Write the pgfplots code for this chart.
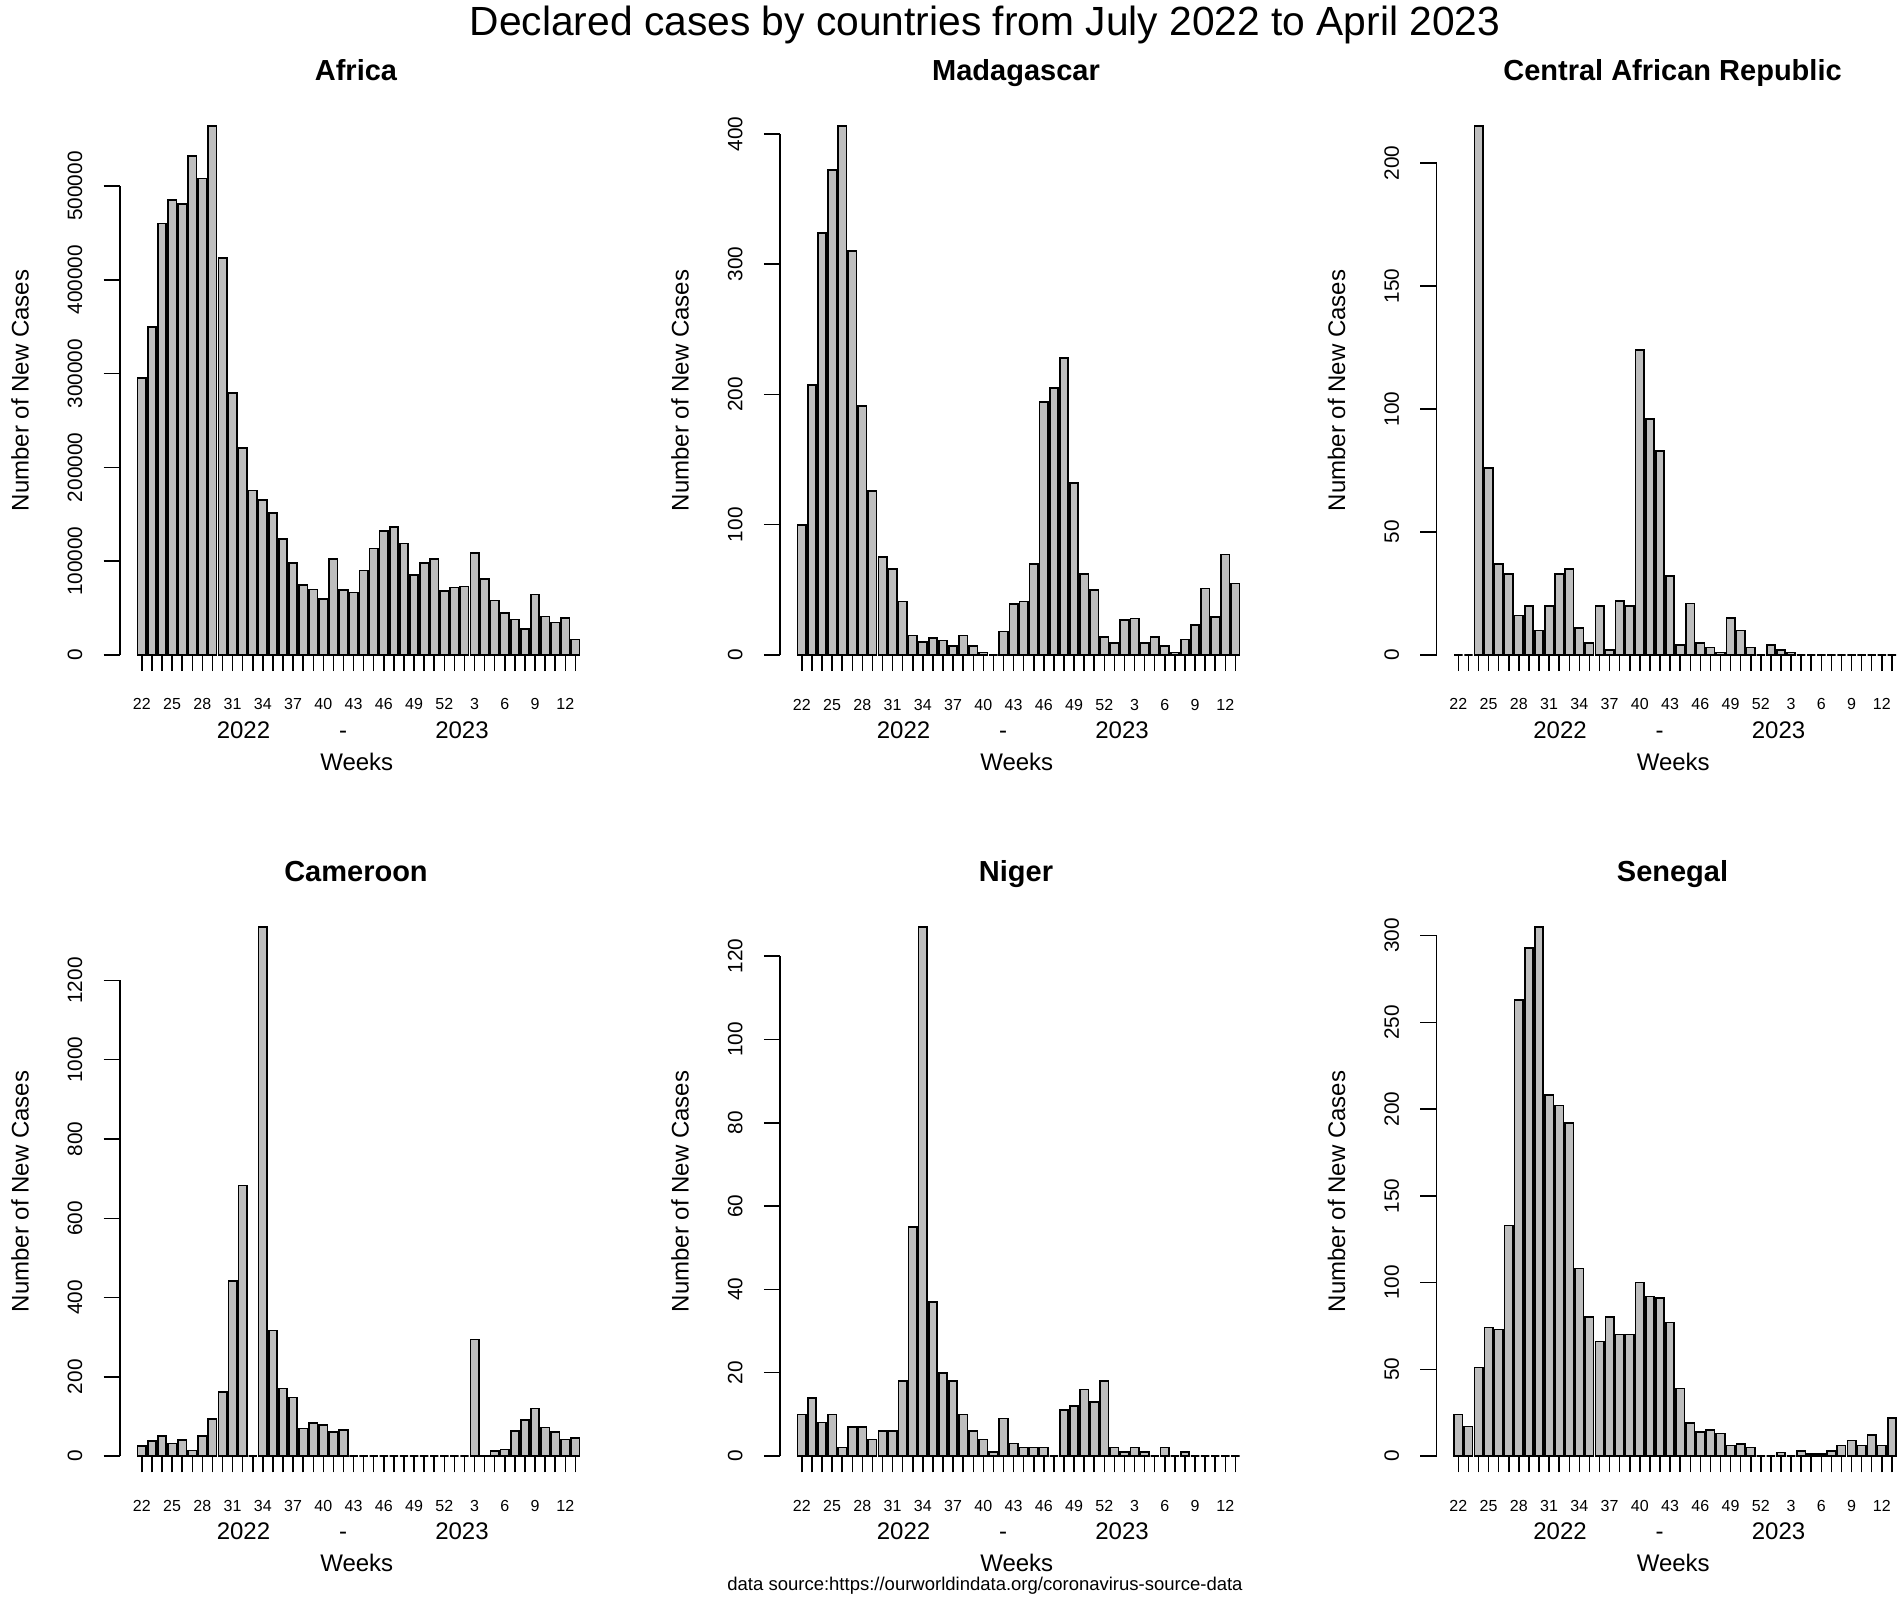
\documentclass[border=0pt]{standalone}
\usepackage{fontspec}
\setmainfont{Liberation Sans}
\usepackage{pgfplots}
\usepackage{pgfplotstable}
\pgfplotsset{compat=1.18}
\definecolor{barfill}{HTML}{BEBEBE}

\newcommand\xtickfont{\fontsize{6.4}{7}\selectfont}
\newcommand\ytickfont{\fontsize{8.3}{9}\selectfont}
\newcommand\labfont{\fontsize{9.6}{11}\selectfont}
\newcommand\paneltitlefont{\bfseries\fontsize{11.6}{13}\selectfont}

\pgfplotstableread{
wk Africa Madagascar CAR Cameroon Niger Senegal
22 295000 100 0 25 10 24
23 350000 207 0 38 14 17
24 460000 324 215 50 8 51
25 485000 372 76 32 10 74
26 481000 406 37 41 2 73
27 532000 310 33 14 7 133
28 508000 191 16 50 7 263
29 564000 126 20 93 4 293
30 423000 75 10 161 6 305
31 279000 66 20 442 6 208
32 221000 41 33 683 18 202
33 175500 15 35 0 55 192
34 165000 10 11 1335 127 108
35 151500 13 5 317 37 80
36 123500 11 20 170 20 66
37 98000 7 2 148 18 80
38 74500 15 22 69 10 70
39 70000 7 20 83 6 70
40 59500 2 124 78 4 100
41 102500 0 96 61 1 92
42 69000 18 83 65 9 91
43 66700 39 32 0 3 77
44 90000 41 4 0 2 39
45 113500 70 21 0 2 19
46 132000 194 5 0 2 14
47 136500 205 3 0 0 15
48 119000 228 1 0 11 13
49 85500 132 15 0 12 6
50 98000 62 10 0 16 7
51 102300 50 3 0 13 5
52 68500 14 0 0 18 0
1 72000 9 4 0 2 0
2 73000 27 2 0 1 2
3 109000 28 1 294 2 0
4 81000 9 0 1 1 3
5 58300 14 0 12 0 1
6 45000 7 0 16 2 1
7 38000 2 0 63 0 3
8 28000 12 0 91 1 6
9 64500 23 0 120 0 9
10 41000 51 0 72 0 6
11 34700 29 0 61 0 12
12 39400 77 0 42 0 6
13 16700 55 0 45 0 22
}\data

\pgfplotsset{
  panel/.style={
    scale only axis, width=190.9pt, height=211.6pt,
    anchor=south west,
    xmin=-1.904, xmax=54.904, ymin=0,
    axis x line*=bottom, axis y line*=left,
    axis line style={draw=none},
    clip=false,
    tick align=outside, major tick length=6.5pt,
    every tick/.style={black, line width=0.6pt},
    xtick={0.7,1.9,...,52.4},
    xticklabels={22,,,25,,,28,,,31,,,34,,,37,,,40,,,43,,,46,,,49,,,52,,,3,,,6,,,9,,,12,},
    xticklabel style={font=\xtickfont, anchor=base, yshift=-15.5pt, inner sep=0pt},
    yticklabel style={font=\ytickfont, xshift=-8.6pt, rotate=90, anchor=base, inner sep=0pt},
    scaled y ticks=false,
    /pgf/number format/fixed,
    /pgf/number format/1000 sep={},
    /pgf/number format/assume math mode=true,
    xlabel={Weeks}, ylabel={Number of New Cases},
    every axis title/.style={at={(axis description cs:0,1)}, anchor=base, xshift=94.4pt, yshift=18.2pt, font=\paneltitlefont},
    every axis x label/.style={at={(axis description cs:0,0)}, anchor=base, xshift=94.7pt, yshift=-46.2pt, font=\labfont},
    every axis y label/.style={at={(axis description cs:0,0.5)}, xshift=-36.6pt, rotate=90, anchor=base, font=\labfont},
  },
  bars/.style={ybar, bar width=1, bar shift=0pt, fill=barfill, draw=black, line width=0.65pt},
}

\newcommand\years{%
  \node[anchor=base, font=\labfont] at ([xshift=49.4pt, yshift=-33.4pt]rel axis cs:0,0) {2022};
  \node[anchor=base, font=\labfont] at ([xshift=89.2pt, yshift=-33.4pt]rel axis cs:0,0) {-};
  \node[anchor=base, font=\labfont] at ([xshift=136.8pt, yshift=-33.4pt]rel axis cs:0,0) {2023};
}

\begin{document}
\begin{tikzpicture}
\path[use as bounding box] (0,0) rectangle (760.8pt,640.8pt);

\node[anchor=base, font=\fontsize{16.3}{19}\selectfont] at (394pt,626.6pt) {Declared cases by countries from July 2022 to April 2023};
\node[anchor=base, font=\fontsize{7.4}{9}\selectfont] at (394pt,4.5pt) {data source:https://ourworldindata.org/coronavirus-source-data};

% Africa
\begin{axis}[panel, at={(48pt,378.8pt)}, title={Africa}, ymax=564000,
  ytick={0,100000,200000,300000,400000,500000}]
\addplot[bars] table[x expr=0.7+1.2*\coordindex, y=Africa]{\data};
\draw[black, line width=0.6pt] (axis cs:-1.904,0) -- (axis cs:-1.904,500000);
\years
\end{axis}

% Madagascar
\begin{axis}[panel, at={(312pt,378.8pt)}, title={Madagascar}, ymax=406,
  ytick={0,100,200,300,400}]
\addplot[bars] table[x expr=0.7+1.2*\coordindex, y=Madagascar]{\data};
\draw[black, line width=0.6pt] (axis cs:-1.904,0) -- (axis cs:-1.904,400);
\years
\end{axis}

% Central African Republic
\begin{axis}[panel, at={(574.6pt,378.8pt)}, title={Central African Republic}, ymax=215,
  ytick={0,50,100,150,200}]
\addplot[bars] table[x expr=0.7+1.2*\coordindex, y=CAR]{\data};
\draw[black, line width=0.6pt] (axis cs:-1.904,0) -- (axis cs:-1.904,200);
\years
\end{axis}

% Cameroon
\begin{axis}[panel, at={(48pt,58.4pt)}, title={Cameroon}, ymax=1335,
  ytick={0,200,400,600,800,1000,1200}]
\addplot[bars] table[x expr=0.7+1.2*\coordindex, y=Cameroon]{\data};
\draw[black, line width=0.6pt] (axis cs:-1.904,0) -- (axis cs:-1.904,1200);
\years
\end{axis}

% Niger
\begin{axis}[panel, at={(312pt,58.4pt)}, title={Niger}, ymax=127,
  ytick={0,20,40,60,80,100,120}]
\addplot[bars] table[x expr=0.7+1.2*\coordindex, y=Niger]{\data};
\draw[black, line width=0.6pt] (axis cs:-1.904,0) -- (axis cs:-1.904,120);
\years
\end{axis}

% Senegal
\begin{axis}[panel, at={(574.6pt,58.4pt)}, title={Senegal}, ymax=305,
  ytick={0,50,100,150,200,250,300}]
\addplot[bars] table[x expr=0.7+1.2*\coordindex, y=Senegal]{\data};
\draw[black, line width=0.6pt] (axis cs:-1.904,0) -- (axis cs:-1.904,300);
\years
\end{axis}

\end{tikzpicture}
\end{document}
